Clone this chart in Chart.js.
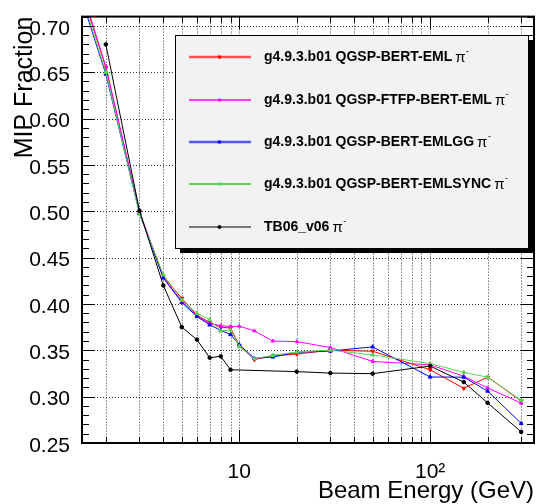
<!DOCTYPE html>
<html>
<head>
<meta charset="utf-8">
<script src="https://cdn.jsdelivr.net/npm/chart.js@4"></script>
<style>html,body{margin:0;padding:0;background:#fff}</style>
</head>
<body>
<canvas id="mipChart" width="540" height="504"></canvas>
<script>
const mipChart = document.getElementById('mipChart');

// beam energies (GeV)
const simEnergies = [1, 2, 3, 4, 5, 6, 7, 8, 9, 10, 12, 15, 20, 30, 50, 100, 150, 200, 300];
const dataEnergies = [2, 3, 4, 5, 6, 7, 8, 9, 20, 30, 50, 100, 150, 200, 300];

// MIP fraction
const emlValues     = [0.850, 0.655, 0.499, 0.430, 0.406, 0.388, 0.380, 0.375, 0.374, 0.355, 0.340, 0.344, 0.346, 0.350, 0.349, 0.329, 0.309, 0.321, 0.2955];
const ftfpValues    = [0.855, 0.656, 0.500, 0.429, 0.403, 0.387, 0.379, 0.3765, 0.3757, 0.376, 0.371, 0.360, 0.3594, 0.353, 0.338, 0.3343, 0.322, 0.3095, 0.293];
const emlggValues   = [0.840, 0.648, 0.498, 0.428, 0.4016, 0.3864, 0.3775, 0.3715, 0.367, 0.356, 0.3414, 0.3428, 0.3478, 0.3492, 0.3537, 0.3212, 0.321, 0.306, 0.2712];
const emlsyncValues = [0.845, 0.650, 0.497, 0.4316, 0.404, 0.390, 0.383, 0.3708, 0.372, 0.354, 0.341, 0.3446, 0.3481, 0.3502, 0.345, 0.3357, 0.3262, 0.321, 0.2961];
const tb06Values    = [0.680, 0.5007, 0.420, 0.375, 0.3615, 0.342, 0.3435, 0.329, 0.327, 0.3254, 0.3248, 0.333, 0.3157, 0.2933, 0.262];

const seriesNames = [
    'g4.9.3.b01 QGSP-BERT-EML',
    'g4.9.3.b01 QGSP-FTFP-BERT-EML',
    'g4.9.3.b01 QGSP-BERT-EMLGG',
    'g4.9.3.b01 QGSP-BERT-EMLSYNC',
    'TB06_v06'
];

const yTickValues = [0.25, 0.30, 0.35, 0.40, 0.45, 0.50, 0.55, 0.60, 0.65, 0.70];
const xLabelValues = [10, 100];
const xLabelTexts = ['10', '10\u00b2'];
const xGridValues = [2, 3, 4, 5, 6, 7, 8, 9, 10, 20, 30, 40, 50, 60, 70, 80, 90, 100, 200, 300];

const FONT = "'Liberation Sans', Arial, Helvetica, sans-serif";
Chart.defaults.font.family = FONT;
Chart.defaults.color = '#000';

function toPoints(xs, ys) {
    return xs.map((x, i) => ({x: x, y: ys[i]}));
}

// dotted grid, inward ticks and the frame
const rootFrame = {
    id: 'rootFrame',
    beforeDatasetsDraw(chart) {
        const {ctx, chartArea: a, scales: {x, y}} = chart;
        ctx.save();
        ctx.strokeStyle = '#333';
        ctx.lineWidth = 1;
        ctx.setLineDash([1, 2]);
        ctx.beginPath();
        xGridValues.forEach(v => {
            const px = Math.round(x.getPixelForValue(v)) + 0.5;
            ctx.moveTo(px, a.top);
            ctx.lineTo(px, a.bottom);
        });
        yTickValues.slice(1).forEach(v => {
            const py = Math.round(y.getPixelForValue(v)) + 0.5;
            ctx.moveTo(a.left, py);
            ctx.lineTo(a.right, py);
        });
        ctx.stroke();
        ctx.restore();
    },
    afterDatasetsDraw(chart) {
        const {ctx, chartArea: a, scales: {x, y}} = chart;
        ctx.save();
        ctx.strokeStyle = '#000';
        ctx.lineWidth = 1;
        ctx.beginPath();
        for (let i = 0; i <= 46; i++) {
            const v = 0.25 + i * 0.01;
            const py = Math.round(y.getPixelForValue(v)) + 0.5;
            const len = (i % 5 === 0) ? 13 : 7;
            ctx.moveTo(a.left, py); ctx.lineTo(a.left + len, py);
            ctx.moveTo(a.right, py); ctx.lineTo(a.right - len, py);
        }
        xGridValues.forEach(v => {
            const px = Math.round(x.getPixelForValue(v)) + 0.5;
            const len = (v === 10 || v === 100) ? 13 : 6;
            ctx.moveTo(px, a.bottom); ctx.lineTo(px, a.bottom - len);
            ctx.moveTo(px, a.top); ctx.lineTo(px, a.top + len);
        });
        ctx.stroke();
        ctx.lineWidth = 2;
        ctx.strokeRect(a.left, a.top, a.right - a.left, a.bottom - a.top);
        ctx.restore();
    }
};

// ROOT style legend box with shadow
const legendColors = ['#ff5555', '#ff00ff', '#5555ff', '#59d454', '#000000'];
const legendWidths = [2.5, 1.5, 2.5, 2, 1];
const legendRows = [57, 100, 142, 184, 227];

const rootLegend = {
    id: 'rootLegend',
    afterDraw(chart) {
        const ctx = chart.ctx;
        const bx = 175, by = 35, bw = 353, bh = 213;
        ctx.save();
        ctx.fillStyle = '#000';
        ctx.fillRect(bx + 5, by + 5, bw, bh);
        ctx.fillStyle = '#f2f2f2';
        ctx.fillRect(bx, by, bw, bh);
        ctx.strokeStyle = '#000';
        ctx.lineWidth = 1;
        ctx.strokeRect(bx + 0.5, by + 0.5, bw, bh);

        chart.data.datasets.forEach((ds, i) => {
            const ry = legendRows[i];
            ctx.strokeStyle = legendColors[i];
            ctx.lineWidth = legendWidths[i];
            ctx.beginPath();
            ctx.moveTo(189, ry);
            ctx.lineTo(251, ry);
            ctx.stroke();
            ctx.fillStyle = ds.borderColor;
            ctx.strokeStyle = ds.borderColor;
            ctx.lineWidth = 1;
            Chart.helpers.drawPoint(ctx, {
                pointStyle: ds.pointStyle,
                rotation: ds.pointRotation || 0,
                radius: ds.pointRadius - 0.3,
                borderWidth: 1
            }, 219.5, ry);

            ctx.fillStyle = '#000';
            ctx.textBaseline = 'middle';
            ctx.textAlign = 'left';
            ctx.font = 'bold 14px ' + FONT;
            ctx.fillText(ds.label, 264, ry);
            const w = ctx.measureText(ds.label).width;
            ctx.font = '15px ' + FONT;
            ctx.fillText('\u03c0', 264 + w + 3, ry + 1);
            const pw = ctx.measureText('\u03c0').width;
            ctx.font = '9px ' + FONT;
            ctx.fillText('-', 264 + w + 3 + pw + 0.5, ry - 5);
        });
        ctx.restore();
    }
};

new Chart(mipChart, {
    type: 'line',
    data: {
        datasets: [
            {
                label: seriesNames[0],
                data: toPoints(simEnergies, emlValues),
                borderColor: '#ff0000',
                backgroundColor: '#ff0000',
                pointStyle: 'triangle',
                pointRotation: 180,
                pointRadius: 2.2,
                order: 4
            },
            {
                label: seriesNames[1],
                data: toPoints(simEnergies, ftfpValues),
                borderColor: '#ff00ff',
                backgroundColor: '#ff00ff',
                pointStyle: 'triangle',
                pointRadius: 2,
                order: 3
            },
            {
                label: seriesNames[2],
                data: toPoints(simEnergies, emlggValues),
                borderColor: '#0000ff',
                backgroundColor: '#0000ff',
                pointStyle: 'triangle',
                pointRadius: 2.2,
                order: 2
            },
            {
                label: seriesNames[3],
                data: toPoints(simEnergies, emlsyncValues),
                borderColor: '#59d454',
                backgroundColor: '#59d454',
                pointStyle: 'triangle',
                pointRadius: 2.2,
                order: 1
            },
            {
                label: seriesNames[4],
                data: toPoints(dataEnergies, tb06Values),
                borderColor: '#000000',
                backgroundColor: '#000000',
                pointStyle: 'circle',
                pointRadius: 1.8,
                order: 0
            }
        ]
    },
    options: {
        responsive: false,
        animation: false,
        layout: {padding: {left: 0, right: 6, top: 9, bottom: 0}},
        elements: {
            line: {borderWidth: 1, tension: 0},
            point: {borderWidth: 1, hoverRadius: 2}
        },
        plugins: {
            legend: {display: false},
            tooltip: {enabled: false}
        },
        scales: {
            x: {
                type: 'logarithmic',
                min: 1.5,
                max: 350,
                grid: {display: false},
                border: {display: false},
                afterBuildTicks: s => { s.ticks = xLabelValues.map(v => ({value: v})); },
                afterFit: s => { s.height = 61; },
                ticks: {
                    autoSkip: false,
                    maxRotation: 0,
                    padding: 9,
                    font: {size: 21},
                    callback: v => xLabelTexts[xLabelValues.indexOf(v)]
                },
                title: {
                    display: true,
                    text: 'Beam Energy (GeV)',
                    align: 'end',
                    font: {size: 24, lineHeight: 1},
                    padding: {top: 0, bottom: 1}
                }
            },
            y: {
                type: 'linear',
                min: 0.25,
                max: 0.71,
                grid: {display: false},
                border: {display: false},
                afterBuildTicks: s => { s.ticks = yTickValues.map(v => ({value: v})); },
                afterFit: s => { s.width = 82; },
                ticks: {
                    padding: 4,
                    labelOffset: 3,
                    font: {size: 21},
                    callback: v => v.toFixed(2)
                },
                title: {
                    display: true,
                    text: 'MIP Fraction',
                    align: 'end',
                    font: {size: 25, lineHeight: 1},
                    padding: {top: 13, bottom: 0}
                }
            }
        }
    },
    plugins: [rootFrame, rootLegend]
});
</script>
</body>
</html>
